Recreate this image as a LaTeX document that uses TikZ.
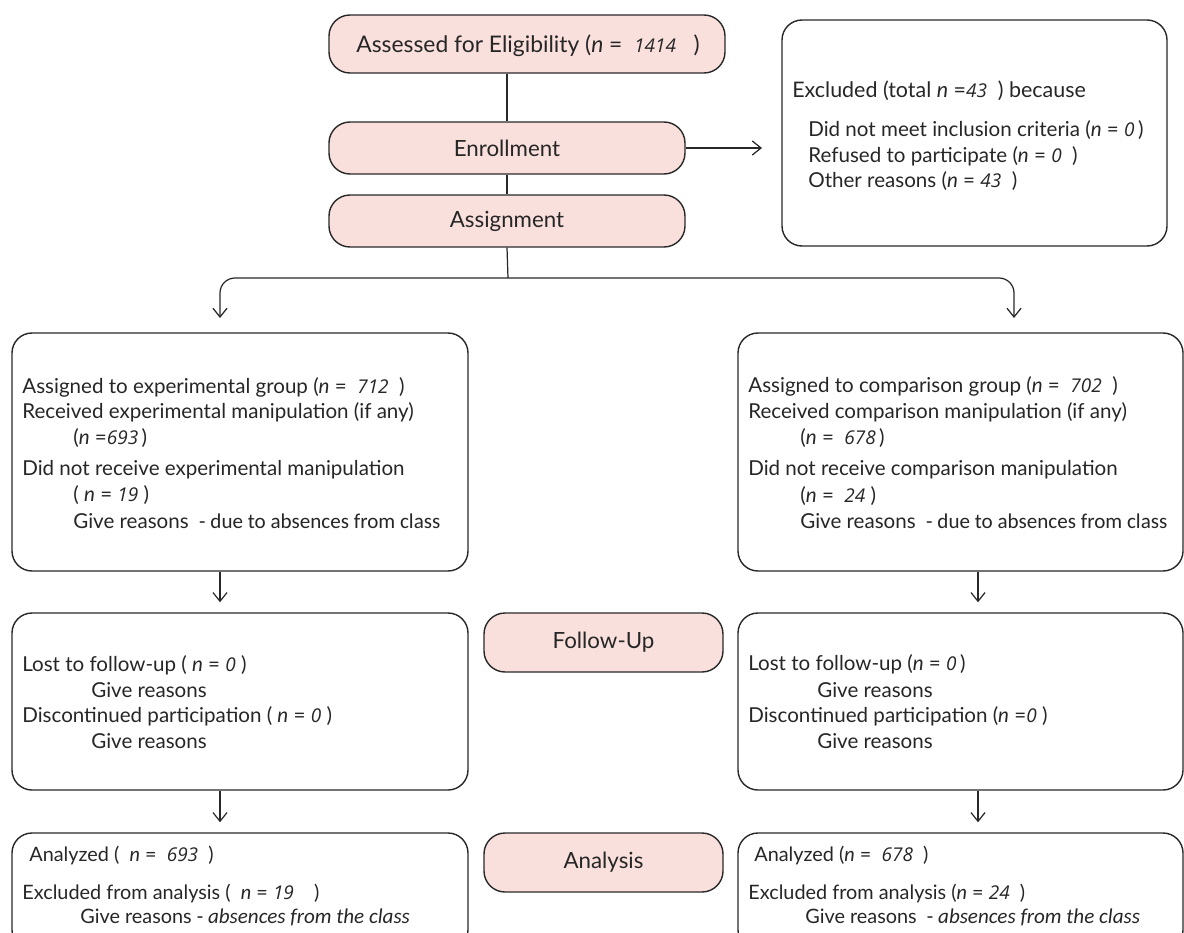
\documentclass[tikz,border=0pt]{standalone}
\usepackage{fontspec}
\setmainfont{Lato}
\newfontfamily\osfont{Open Sans}
\newfontfamily\calfont{Carlito}
\usetikzlibrary{arrows.meta,fit}
\definecolor{pinkfill}{RGB}{250,224,221}
\definecolor{edgecol}{RGB}{40,40,40}
\newcommand{\nn}{\textit{n}}
\newcommand{\num}[1]{{\osfont\itshape\fontsize{10.8}{13}\selectfont #1}}
\tikzset{
  x=0.02cm, y=-0.02cm,
  pinkbox/.style={draw=edgecol, fill=pinkfill, line width=0.8pt, rounded corners=0.42cm, inner sep=0pt},
  pinktxt/.style={inner sep=0pt, font=\fontsize{12.7}{14}\selectfont, text=black!85},
  whitebox/.style={draw=edgecol, line width=0.8pt, rounded corners=0.4cm, inner sep=0pt},
  txt/.style={anchor=west, inner sep=0pt, font=\fontsize{11.7}{13}\selectfont, text=black!85},
  txts/.style={txt, font=\fontsize{11.3}{13}\selectfont},
  conn/.style={draw=edgecol, line width=0.7pt},
  arr/.style={conn, -{Straight Barb[length=5pt,width=8pt]}},
}
\begin{document}
\begin{tikzpicture}
\useasboundingbox (0,0) rectangle (1184,933);
\clip (0,0) rectangle (1184,933);

% pink stage boxes
\node[pinkbox, fit={(329,15) (725,73)}] (ass) {};
\node[pinktxt, font=\fontsize{13}{15}\selectfont] (asst) at (528,46) {Assessed for Eligibility (\nn{} = \ \num{1414}\ \ \ )};
\node[pinkbox, fit={(329,122) (685,174)}] (enr) {};
\node[pinktxt] (enrt) at (enr.center) {Enrollment};
\node[pinkbox, fit={(329,195) (685,247)}] (asg) {};
\node[pinktxt] (asgt) at (asg.center) {Assignment};
\node[pinkbox, fit={(484,613) (723,672)}] (fup) {};
\node[pinktxt] (fupt) at (fup.center) {Follow-Up};
\node[pinkbox, fit={(484,833) (723,892)}] (ana) {};
\node[pinktxt] (anat) at (ana.center) {Analysis};

% excluded box
\node[whitebox, fit={(782,20) (1167,246)}] (excl) {};
\node[txt, font=\fontsize{12.2}{14}\selectfont] (x1) at (792,91) {Excluded (total \nn{} =\num{43}\ \ ) because};
\node[txt] (x2) at (808,130) {Did not meet inclusion criteria (\nn{} = \num{0}\,)};
\node[txt] (x3) at (808,156) {Refused to participate (\nn{} = \num{0}\ \ )};
\node[txt] (x4) at (808,181) {Other reasons (\nn{} = \num{43}\ \ )};

% allocation boxes
\node[whitebox, fit={(12,333) (468,571)}] (exp) {};
\node[txt] (e1) at (22,387) {Assigned to experimental group (\nn{} = \ \num{712}\ \ )};
\node[txt] (e2) at (22,412) {Received experimental manipulation (if any)};
\node[txt] (e3) at (73,438) {(\nn{} =\num{693}\,)};
\node[txt] (e4) at (22,470) {Did not receive experimental manipulation};
\node[txt] (e5) at (73,495) {(\ \nn{} = \num{19}\ )};
\node[txt] (e6) at (73,521) {Give reasons\ \ {\calfont\fontsize{12}{13}\selectfont - due to absences from class}};

\node[whitebox, fit={(738,333) (1183,571)}] (cmp) {};
\node[txt] (c1) at (748,386) {Assigned to comparison group (\nn{} = \ \num{702}\ \ )};
\node[txt] (c2) at (748,412) {Received comparison manipulation (if any)};
\node[txt] (c3) at (800,438) {(\nn{} = \ \num{678}\,)};
\node[txt] (c4) at (748,470) {Did not receive comparison manipulation};
\node[txt] (c5) at (800,496) {(\nn{} = \ \num{24}\ )};
\node[txt] (c6) at (800,521) {Give reasons\ \ {\calfont\fontsize{12}{13}\selectfont - due to absences from class}};

% follow-up boxes
\node[whitebox, fit={(12,613) (468,790)}] (fuL) {};
\node[txt] (f1) at (22,665) {Lost to follow-up (\ \nn{} = \num{0}\ )};
\node[txt] (f2) at (91,690) {Give reasons};
\node[txt] (f3) at (22,716) {Discontinued participation (\ \nn{} = \num{0}\ )};
\node[txt] (f4) at (91,741) {Give reasons};

\node[whitebox, fit={(738,613) (1183,790)}] (fuR) {};
\node[txt] (g1) at (748,664) {Lost to follow-up (\nn{} = \num{0}\,)};
\node[txt] (g2) at (817,690) {Give reasons};
\node[txt] (g3) at (748,716) {Discontinued participation (\nn{} =\num{0}\ )};
\node[txt] (g4) at (817,741) {Give reasons};

% analysis boxes
\node[whitebox, fit={(12,833) (468,950)}] (anL) {};
\node[txts] (a1) at (29,855) {Analyzed (\ \ \nn{} = \ \num{693}\ \ )};
\node[txts] (a2) at (22,893) {Excluded from analysis (\ \ \nn{} = \num{19}\ \ \ \ )};
\node[txts] (a3) at (80,917) {Give reasons\ {\calfont\fontsize{12}{13}\selectfont - \textit{absences from the class}}};

\node[whitebox, fit={(738,833) (1183,950)}] (anR) {};
\node[txts] (b1) at (754,855) {Analyzed (\nn{} = \ \num{678}\ \ )};
\node[txts] (b2) at (748,893) {Excluded from analysis (\nn{} = \num{24}\ \ )};
\node[txts] (b3) at (805,917) {Give reasons\ \ {\calfont\fontsize{12}{13}\selectfont - \textit{absences from the class}}};

% connectors
\draw[conn] (ass.south -| enr.north) -- (enr.north);
\draw[conn] (enr.south) -- (asg.north);
\coordinate (exclIn) at (762,148);
\draw[arr] (enr.east) -- (exclIn);
\coordinate (split) at (508,278);
\coordinate (colL) at (220,318);
\coordinate (colR) at (1014,318);
\draw[conn] (asg.south) -- (split);
\draw[arr, rounded corners=0.3cm] (split) -| (colL);
\draw[arr, rounded corners=0.3cm] (split) -| (colR);

\coordinate (mL) at (220,0);
\coordinate (mR) at (978,0);
\draw[arr, shorten >=0.2cm] (exp.south -| mL) -- (fuL.north -| mL);
\draw[arr, shorten >=0.2cm] (cmp.south -| mR) -- (fuR.north -| mR);
\draw[arr, shorten >=0.2cm] (fuL.south -| mL) -- (anL.north -| mL);
\draw[arr, shorten >=0.2cm] (fuR.south -| mR) -- (anR.north -| mR);
\end{tikzpicture}
\end{document}
